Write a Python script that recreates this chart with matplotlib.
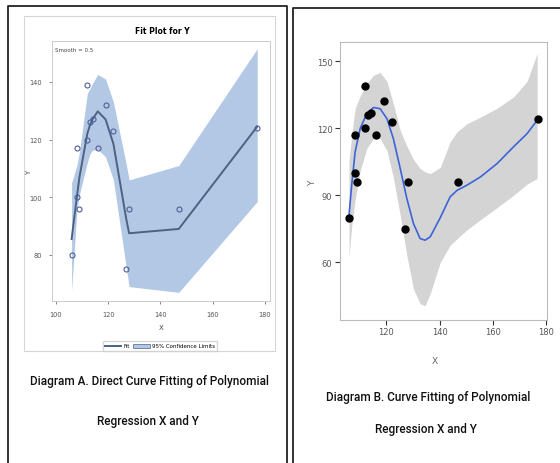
import matplotlib.pyplot as plt
from matplotlib.lines import Line2D
from matplotlib.patches import Rectangle, Patch

# observed data (same in both diagrams)
x = [106, 108, 108, 109, 112, 112, 113, 114, 116, 119, 122, 127, 128, 147, 177]
y = [80, 100, 117, 96, 139, 120, 126, 127, 117, 132, 123, 75, 96, 96, 124]

# Diagram A: loess fit (smooth = 0.5) at the distinct x values, with 95% limits
fit_x = [106, 108, 109, 112, 113, 114, 116, 119, 122, 127, 128, 147, 177]
fit_y = [85.5, 100, 107, 122, 125, 127, 129.8, 127, 118.5, 92, 87.5, 89, 124.5]
fit_hi = [105, 111, 115.7, 136, 137.6, 139.5, 142.6, 141, 133, 111, 106, 111, 151.5]
fit_lo = [67.5, 95, 101, 112, 115, 116.3, 116.6, 114, 106, 75, 69, 67, 98.5]

# Diagram B: smooth curve and its grey band
sm_x = [105.9, 106.9, 108.2, 110.1, 112.6, 115.1, 117.6, 120.2, 122.6, 125.2, 127.7, 130.2,
        132.7, 134.6, 136.5, 140.3, 144, 146.6, 150.3, 155.4, 161.7, 167.9, 173, 176.8]
sm_y = [81, 94.5, 109.4, 119.9, 126.6, 129.3, 128.8, 124.3, 115.4, 102, 88.5, 77.3,
        70.6, 69.9, 71.4, 80, 89.3, 92.2, 94.5, 98.2, 104.2, 111.7, 117.6, 123.6]
sm_hi = [105, 117, 128.8, 134.5, 140, 143.7, 145, 141, 131, 119, 112, 106,
         102, 100.5, 99.7, 102.5, 113.9, 118.4, 122, 125, 129, 134, 141, 153.5]
sm_lo = [62.4, 76, 88, 101, 111, 115.4, 115.4, 110, 98, 81, 63, 48,
         41.5, 40.5, 46, 60, 67.6, 70.5, 74.5, 79, 84.5, 90, 95, 97.5]

captions_a = ['Diagram A. Direct Curve Fitting of Polynomial', 'Regression X and Y']
captions_b = ['Diagram B. Curve Fitting of Polynomial', 'Regression X and Y']

W, H = 560, 464
fig = plt.figure(figsize=(W / 100, H / 100), dpi=100)


def fx(px):
    return px / W


def fy(py):
    return 1 - py / H


# black frames around the two panels
for xs, ys in [([8, 8, 287, 287], [464, 7, 7, 464]), ([293, 293, 560], [464, 9, 9])]:
    fig.add_artist(Line2D([fx(v) for v in xs], [fy(v) for v in ys], color='#222222', lw=1.3))

# light border of the SAS graph area
fig.add_artist(Rectangle((fx(24), fy(352)), fx(251), 335 / H, fill=False,
                         ec='#d6d6d6', lw=0.8))

# ---------- Diagram A ----------
ax = fig.add_axes([fx(52), fy(302), fx(218), 260 / H])
ax.fill_between(fit_x, fit_lo, fit_hi, color='#b3c8e4', lw=0)
ax.plot(fit_x, fit_y, color='#4c6283', lw=1.4)
ax.plot(x, y, 'o', mfc='none', mec='#4d5f98', ms=3.6, mew=0.8)
ax.set_xlim(98.5, 181.9)
ax.set_ylim(64, 154.2)
ax.set_xticks([100, 120, 140, 160, 180])
ax.set_yticks([80, 100, 120, 140])
ax.tick_params(labelsize=4.8, colors='#555555', length=2, width=0.5, pad=5)
for s in ax.spines.values():
    s.set_color('#cccccc')
    s.set_linewidth(0.7)
ax.text(0.015, 0.975, 'Smooth = 0.5', transform=ax.transAxes, fontsize=4,
        color='#444444', va='top')
fig.text(fx(162), fy(32), 'Fit Plot for Y', fontsize=5.5, weight='bold',
         ha='center', va='center')
fig.text(fx(161), fy(328), 'X', fontsize=5, color='#444444', ha='center', va='center')
fig.text(fx(29), fy(173), 'Y', fontsize=5, color='#444444', ha='center', va='center',
         rotation=90)
handles = [Line2D([], [], color='#4c6283', lw=1.4),
           Patch(fc='#b3c8e4', ec='#4c6283', lw=0.5)]
fig.legend(handles, ['Fit', '95% Confidence Limits'], loc='center',
           bbox_to_anchor=(fx(160), fy(347)), ncol=2, fontsize=4, frameon=True,
           fancybox=False, edgecolor='#cccccc', handlelength=3, columnspacing=0.6,
           handletextpad=0.4, borderpad=0.4)

# ---------- Diagram B ----------
bx = fig.add_axes([fx(340), fy(320.7), fx(206.7), 277.4 / H])
bx.fill_between(sm_x, sm_lo, sm_hi, color='#d4d4d4', lw=0)
bx.plot(sm_x, sm_y, color='#3c64d8', lw=1.2)
bx.plot(x, y, 'o', color='black', ms=5)
bx.set_xlim(102.5, 180.4)
bx.set_ylim(34.3, 158.5)
bx.set_xticks([120, 140, 160, 180])
bx.set_yticks([60, 90, 120, 150])
bx.tick_params(labelsize=6, labelcolor='#555555', color='#333333', length=3.5,
               width=0.8, pad=2)
for s in bx.spines.values():
    s.set_color('#bbbbbb')
    s.set_linewidth(0.8)
fig.text(fx(435), fy(362), 'X', fontsize=6.5, color='#666666', ha='center', va='center')
fig.text(fx(313), fy(183), 'Y', fontsize=6.5, color='#666666', ha='center', va='center',
         rotation=90)

# captions: one font size, chosen so the first line of A spans its width in the picture
caps = [(captions_a[0], 149, 382), (captions_a[1], 148, 422),
        (captions_b[0], 428, 397), (captions_b[1], 426, 430)]
texts = [fig.text(fx(cx), fy(cy), s, fontsize=10, family='Roboto', weight='medium',
                  color='#111111', ha='center', va='center') for s, cx, cy in caps]
fig.canvas.draw()
w = texts[0].get_window_extent(fig.canvas.get_renderer()).width
for t in texts:
    t.set_fontsize(10 * 239 / w)

fig.savefig('out.png', dpi=100)
